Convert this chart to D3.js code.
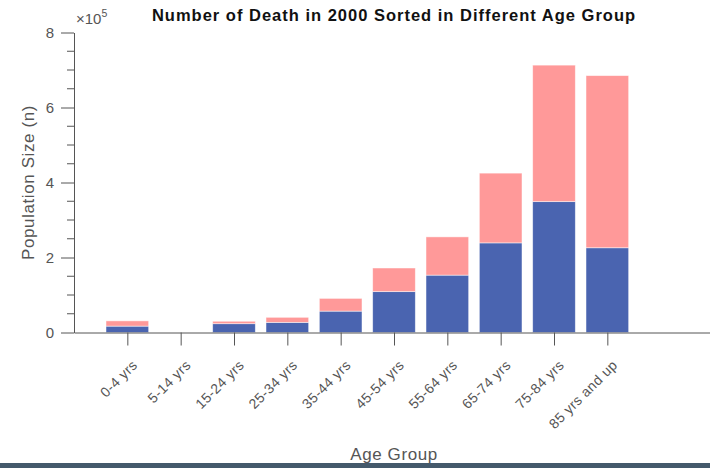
<!DOCTYPE html>
<html lang="en">
<head>
    <meta charset="utf-8">
    <title>Number of Death in 2000</title>
    <script src="https://cdn.jsdelivr.net/npm/d3@7"></script>
    <style type="text/css">
        body { margin: 0; background: #fff; }
        text { font-family: Arial, "Liberation Sans", Helvetica, sans-serif; fill: #555; }
        .title { font-weight: bold; fill: #111; }
    </style>
</head>
<body>
<script type="text/javascript">

    var w = 710;
    var h = 468;

    // data
    var ageGroups = ["0-4 yrs", "5-14 yrs", "15-24 yrs", "25-34 yrs", "35-44 yrs",
        "45-54 yrs", "55-64 yrs", "65-74 yrs", "75-84 yrs", "85 yrs and up"];
    var lower = [17000, 0, 23500, 27000, 57000, 109000, 153000, 239000, 349000, 226000];
    var upper = [14000, 0, 6500, 13500, 34000, 63000, 102000, 186000, 364000, 459000];
    var yTicks = [0, 2e5, 4e5, 6e5, 8e5];

    var rows = ageGroups.map(function (g, i) {
        return {group: g, pos: i + 1, lower: lower[i], upper: upper[i]};
    });
    var series = d3.stack().keys(["lower", "upper"])(rows);
    var colors = ["#4a64b0", "#ff9999"];

    var svg = d3.select("body")
        .append("svg")
        .attr("width", w)
        .attr("height", h);

    var xScale = d3.scaleLinear()
        .domain([0, 12])
        .range([74, 714]);

    var yScale = d3.scaleLinear()
        .domain([0, 8e5])
        .range([332.5, 32.5]);

    var barW = (xScale(1) - xScale(0)) * 0.8;

    //Bars
    svg.selectAll("g.layer")
        .data(series)
        .enter()
        .append("g")
        .attr("class", "layer")
        .attr("fill", function (d, i) { return colors[i]; })
        .selectAll("rect")
        .data(function (d) { return d; })
        .enter()
        .append("rect")
        .attr("x", function (d) { return xScale(d.data.pos) - barW / 2; })
        .attr("y", function (d) { return yScale(d[1]); })
        .attr("width", barW)
        .attr("height", function (d) { return yScale(d[0]) - yScale(d[1]); })
        .attr("stroke", "#fff")
        .attr("stroke-opacity", 0.6)
        .attr("stroke-width", 0.8);

    //Y axis
    var yAxis = d3.axisLeft(yScale)
        .tickValues(yTicks)
        .tickSize(13)
        .tickSizeOuter(0)
        .tickPadding(7)
        .tickFormat(function (d) { return d / 1e5; });

    var gy = svg.append("g")
        .attr("transform", "translate(" + xScale(0) + ",0)")
        .call(yAxis);
    gy.select(".domain").attr("stroke", "#555");
    gy.selectAll(".tick line").attr("stroke", "#555");
    gy.selectAll(".tick text").style("font-size", "15px").attr("fill", "#555");

    // minor ticks
    var minor = d3.range(0, 8e5 + 1, 0.5e5).filter(function (v) { return yTicks.indexOf(v) < 0; });
    gy.selectAll("line.minor")
        .data(minor)
        .enter()
        .append("line")
        .attr("class", "minor")
        .attr("x1", -7)
        .attr("x2", 0)
        .attr("y1", yScale)
        .attr("y2", yScale)
        .attr("stroke", "#555");

    //X axis
    var xAxis = d3.axisBottom(xScale)
        .tickValues(rows.map(function (d) { return d.pos; }))
        .tickSize(13)
        .tickSizeOuter(0)
        .tickPadding(4)
        .tickFormat(function (d) { return ageGroups[d - 1]; });

    var gx = svg.append("g")
        .attr("transform", "translate(0," + yScale(0) + ")")
        .call(xAxis);
    gx.select(".domain").attr("stroke", "#555");
    gx.selectAll(".tick line").attr("stroke", "#555");
    gx.selectAll(".tick text")
        .style("font-size", "14px")
        .style("letter-spacing", "0.4px")
        .attr("fill", "#555")
        .attr("text-anchor", "end")
        .attr("dy", "0.35em")
        .attr("transform", "translate(7,30) rotate(-45)")
        .attr("y", 0);

    //Exponent
    var ex = svg.append("text")
        .attr("x", 76)
        .attr("y", 24)
        .style("font-size", "15px");
    ex.append("tspan").text("\u00d710");
    ex.append("tspan").attr("dy", -7).style("font-size", "10.5px").text("5");

    //Title
    svg.append("text")
        .attr("class", "title")
        .attr("x", xScale(6))
        .attr("y", 21)
        .attr("text-anchor", "middle")
        .style("font-size", "16.5px")
        .style("letter-spacing", "1px")
        .text("Number of Death in 2000 Sorted in Different Age Group");

    //Axis labels
    svg.append("text")
        .attr("transform", "translate(34," + yScale(4e5) + ") rotate(-90)")
        .attr("text-anchor", "middle")
        .style("font-size", "17px")
        .style("letter-spacing", "0.6px")
        .text("Population Size (n)");

    svg.append("text")
        .attr("x", xScale(6))
        .attr("y", 460)
        .attr("text-anchor", "middle")
        .style("font-size", "17px")
        .style("letter-spacing", "0.6px")
        .text("Age Group");

    // dark strip at the bottom of the screenshot
    svg.append("rect")
        .attr("x", 0)
        .attr("y", 463)
        .attr("width", w)
        .attr("height", 5)
        .attr("fill", "#44596b");

</script>
</body>
</html>
